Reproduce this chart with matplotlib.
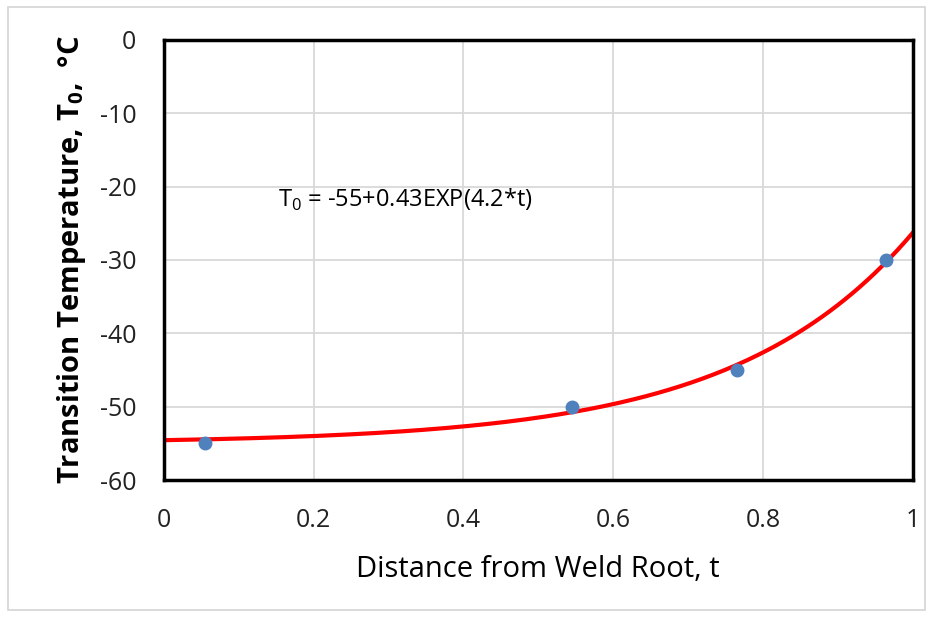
import numpy as np
import matplotlib.pyplot as plt
from matplotlib.patches import Rectangle

# 数据点
dist = [0.055, 0.545, 0.765, 0.965]
temp = [-55, -50, -45, -30]
# 趋势线系数 (图中公式 T0 = -55+0.43EXP(4.2*t))
fit_a = -55
fit_b = 0.43
fit_k = 4.2
x_ticks = [0, 0.2, 0.4, 0.6, 0.8, 1]
x_tick_labels = ['0', '0.2', '0.4', '0.6', '0.8', '1']
y_ticks = [0, -10, -20, -30, -40, -50, -60]

plt.rcParams['font.family'] = ['Open Sans', 'DejaVu Sans']
plt.rcParams['axes.unicode_minus'] = False
plt.rcParams['mathtext.fontset'] = 'custom'
plt.rcParams['mathtext.rm'] = 'Open Sans'
plt.rcParams['mathtext.bf'] = 'Open Sans:bold'

fig = plt.figure(figsize=(9.37, 6.21), dpi=100)
ax = fig.add_axes([0.175, 0.227, 0.799, 0.709])

# 外框
fig.patches.append(Rectangle((0.009, 0.018), 0.978, 0.971, transform=fig.transFigure,
                             fill=False, edgecolor='#d4d4d4', linewidth=1.2))

t = np.linspace(0, 1, 200)
ax.plot(t, fit_a + fit_b * np.exp(fit_k * t), color='#ff0000', linewidth=3, zorder=2)
ax.plot(dist, temp, 'o', color='#4f81bd', markersize=9, zorder=3)

ax.set_xlim(0, 1)
ax.set_ylim(-60, 0)
ax.set_xticks(x_ticks)
ax.set_xticklabels(x_tick_labels)
ax.set_yticks(y_ticks)
ax.grid(True, color='#d9d9d9', linewidth=1.3)
ax.set_axisbelow(True)
for s in ax.spines.values():
    s.set_linewidth(2.5)
    s.set_color('black')
ax.tick_params(length=0, labelsize=18, colors='#222222')
ax.tick_params(axis='y', pad=20)
ax.tick_params(axis='x', pad=20)

ax.text(0.152, -21.8, 'T$_0$ = -55+0.43EXP(4.2*t)', fontsize=17, va='center', ha='left')

ax.set_xlabel('Distance from Weld Root, t', fontsize=21, labelpad=16)
ax.set_ylabel('Transition Temperature, T$_\\mathbf{0}$,  °C', fontsize=21,
              fontweight='bold', labelpad=8)

plt.savefig('out.png', dpi=100)
